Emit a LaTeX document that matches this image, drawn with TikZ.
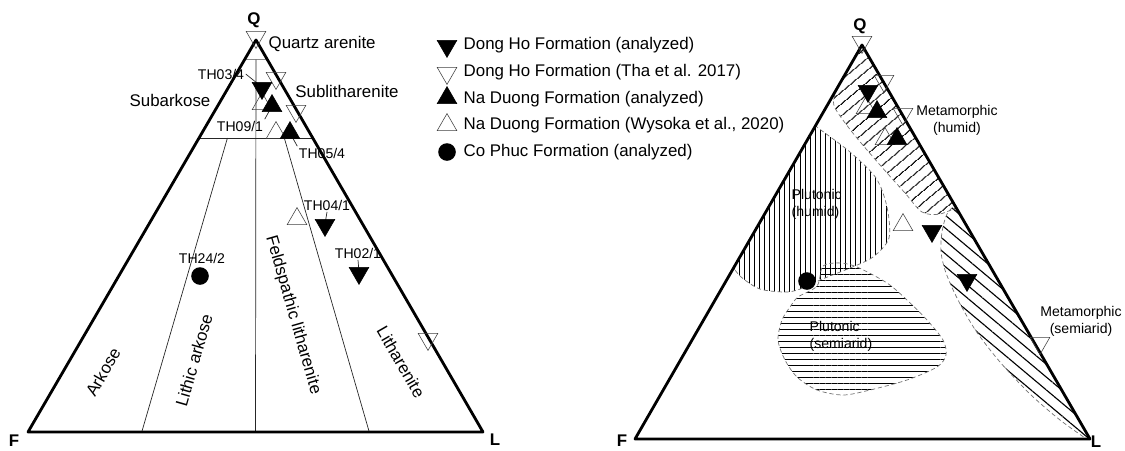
\documentclass[tikz,border=0pt]{standalone}
\usepackage{fontspec}
\setmainfont{Liberation Sans}
\usepackage{tikz}
\usetikzlibrary{shapes.geometric,calc,patterns.meta}

\begin{document}
\begin{tikzpicture}[x=0.025cm, y=-0.025cm,
  every node/.style={font=\fontsize{12}{14}\selectfont, inner sep=1pt},
  smp/.style={font=\fontsize{10}{12}\selectfont},
  apex/.style={font=\fontsize{12}{14}\selectfont\bfseries},
  mk/.style={regular polygon, regular polygon sides=3, minimum size=0.57cm,
             inner sep=0pt, draw=black},
  dhana/.style={mk, shape border rotate=180, fill=black},
  dhtha/.style={mk, shape border rotate=180, draw=black!75, line width=0.4pt},
  ndana/.style={mk, fill=black},
  ndwys/.style={mk, draw=black!75, line width=0.4pt},
  cpana/.style={circle, fill=black, minimum size=0.44cm, inner sep=0pt},
  rim/.style={line width=2pt, line join=round},
  fine/.style={line width=0.5pt, black!85},
  zone/.style={draw=black!55, densely dashed, line width=0.5pt},
]
\useasboundingbox (0,0) rectangle (1125,450);

%% Left diagram: Q-F-L classification
\coordinate (Q) at (256,40);
\coordinate (F) at (28,432);
\coordinate (L) at (483,432);
\coordinate (mid) at ($(F)!0.5!(L)$);
\coordinate (top) at ($(mid)!0.95!(Q)$);
\coordinate (b1) at ($(F)!0.25!(L)$);
\coordinate (b3) at ($(F)!0.75!(L)$);

\draw[fine] ($(F)!0.75!(Q)$) -- ($(L)!0.75!(Q)$);
\draw[fine, black!45] ($(F)!0.95!(Q)$) -- ($(L)!0.95!(Q)$);
\draw[fine] (top) -- (mid);
\draw[fine] ($(Q)!0.25!(b1)$) -- (b1);
\draw[fine] ($(Q)!0.25!(b3)$) -- (b3);
\draw[rim] (Q) -- (F) -- (L) -- cycle;

\node[apex] (lq) at (254,20) {Q};
\node[apex] (lf) at (14,441) {F};
\node[apex] (ll) at (495,440) {L};

%% Class names
\node[anchor=west] (qa) at (267,44) {Quartz arenite};
\node (sa) at (170,100) {Subarkose};
\node (sl) at (347,91) {Sublitharenite};
\node[rotate=60] (ak) at (103,372) {Arkose};
\node[rotate=74] (la) at (194,360) {Lithic arkose};
\node[rotate=-74] (fl) at (293,315) {Feldspathic litharenite};
\node[rotate=-60] (lt) at (401,362) {Litharenite};

%% Samples
\node[smp] (t034) at (221,74) {TH03/4};
\node[smp] (t091) at (240,126) {TH09/1};
\node[smp] (t054) at (322,153) {TH05/4};
\node[smp] (t041) at (327,205) {TH04/1};
\node[smp] (t021) at (358,253) {TH02/1};
\node[smp] (t242) at (202,258) {TH24/2};

\node[dhtha] (d1) at (256,37) {};
\node[dhtha] (d2) at (276,78) {};
\node[dhtha] (d3) at (296,111) {};
\node[dhtha] (d4) at (428,339) {};
\node[ndwys] (w1) at (262,104) {};
\node[ndwys] (w2) at (276,133) {};
\node[ndwys] (w3) at (297,219) {};

\draw[fine] (t034.east) -- (262,87);
\draw[fine] (t091.north east) -- (272,106);
\draw[fine] (t054.north west) -- (290,133);
\draw[fine] (t041.south) -- (325,224);
\draw[fine] (t021.south) -- (359,272);

\node[dhana] (m034) at (262,88) {};
\node[dhana] (m041) at (325,225) {};
\node[dhana] (m021) at (359,273) {};
\node[ndana] (m091) at (272,106) {};
\node[ndana] (m054) at (290,133) {};
\node[cpana] (m242) at (200,276) {};

%% Legend
\node[dhana] (k1) at (447,46) {};
\node[dhtha] (k2) at (447,73) {};
\node[ndana] (k3) at (447,98) {};
\node[ndwys] (k4) at (447,125) {};
\node[cpana] (k5) at (447,152) {};
\node[anchor=west] (e1) at (462,45) {Dong Ho Formation (analyzed)};
\node[anchor=west] (e2) at (462,72) {Dong Ho Formation (Tha et al. 2017)};
\node[anchor=west] (e3) at (462,99) {Na Duong Formation (analyzed)};
\node[anchor=west] (e4) at (462,125) {Na Duong Formation (Wysoka et al., 2020)};
\node[anchor=west] (e5) at (462,152) {Co Phuc Formation (analyzed)};

%% Right diagram: provenance fields
\coordinate (Q2) at (862,45);
\coordinate (F2) at (635,439);
\coordinate (L2) at (1090,439);

\begin{scope}
\clip (Q2) -- (F2) -- (L2) -- cycle;
% metamorphic (humid)
\path[save path=\mhum, pattern={Lines[angle=40,distance=6.4pt,line width=0.8pt]}]
  (850,20) -- (845,75) -- plot[smooth] coordinates {(836,92) (834,106)
  (852,132) (880,165) (905,193) (922,212) (940,214) (962,205)}
  -- (990,190) -- (880,20) -- cycle;
% plutonic (humid)
\path[save path=\phum, pattern={Lines[angle=90,distance=3.6pt,line width=0.5pt]}]
  (800,110) -- plot[smooth] coordinates {(818,128) (850,152) (876,178)
  (887,207) (889,238) (873,257) (850,268) (820,280) (803,288) (787,292)
  (760,289) (740,276) (730,262)} -- (700,262) -- cycle;
% plutonic (semiarid)
\path[save path=\psem, pattern={Lines[angle=0,distance=4.3pt,line width=0.5pt]}]
  plot[smooth cycle] coordinates {(817,286) (823,266) (840,263) (857,267)
  (887,283) (907,300) (927,320) (943,340) (946,355) (937,367) (907,380)
  (870,390) (843,395) (817,390) (797,377) (785,360) (778,340) (782,320)
  (790,307) (798,297)};
% metamorphic (semiarid)
\path[save path=\msem, pattern={Lines[angle=-40,distance=7pt,line width=0.8pt]}]
  plot[smooth] coordinates {(957,203) (947,214) (942,232) (941,252)
  (946,273) (958,300) (976,331) (1000,362) (1030,394) (1060,420)
  (1088,440)} -- (1120,450) -- (990,190) -- cycle;
\foreach \p in {\mhum,\phum,\psem,\msem}
  \draw[zone, use path=\p];
\end{scope}
\draw[rim] (Q2) -- (F2) -- (L2) -- cycle;

\node[apex] (rq) at (860,26) {Q};
\node[apex] (rf) at (622,441) {F};
\node[apex] (rl) at (1096,442) {L};

\node[smp, align=center] (lmh) at (957,120) {Metamorphic\\(humid)};
\node[smp, align=left, anchor=west] (lph) at (790,204) {Plutonic\\(humid)};
\node[smp, align=left, anchor=west] (lps) at (808,336) {Plutonic\\(semiarid)};
\node[smp, align=center] (lms) at (1081,321) {Metamorphic\\(semiarid)};

\node[dhtha] (r1) at (862,42) {};
\node[dhtha] (r2) at (884,81) {};
\node[dhtha] (r3) at (903,114) {};
\node[dhtha] (r4) at (1040,343) {};
\node[ndwys] (r5) at (866,108) {};
\node[ndwys] (r6) at (885,139) {};
\node[ndwys] (r7) at (903,225) {};
\node[dhana] (r8) at (868,91) {};
\node[dhana] (r9) at (932,231) {};
\node[dhana] (r10) at (967,280) {};
\node[ndana] (r11) at (877,112) {};
\node[ndana] (r12) at (897,139) {};
\node[cpana] (r13) at (807,281) {};

\end{tikzpicture}
\end{document}
